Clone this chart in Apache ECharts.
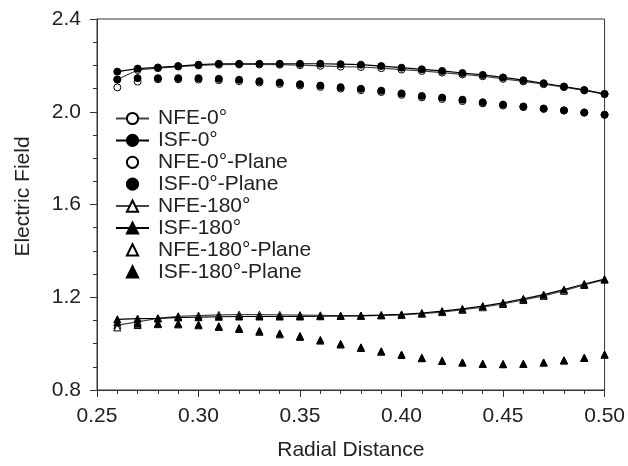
<!DOCTYPE html>
<html><head><meta charset="utf-8">
<script src="https://cdn.jsdelivr.net/npm/echarts@6/dist/echarts.min.js"></script>
<style>html,body{margin:0;padding:0;background:#fff}#c{width:628px;height:466px}</style>
</head><body><div id="c"></div>
<script>
const radialDistance = [0.26,0.27,0.28,0.29,0.30,0.31,0.32,0.33,0.34,0.35,0.36,0.37,0.38,0.39,0.40,0.41,0.42,0.43,0.44,0.45,0.46,0.47,0.48,0.49,0.50];
const nfe0 = [2.139,2.180,2.188,2.195,2.200,2.203,2.204,2.204,2.203,2.201,2.198,2.195,2.193,2.188,2.182,2.176,2.169,2.161,2.153,2.142,2.131,2.119,2.106,2.092,2.076];
const isf0 = [2.173,2.186,2.191,2.197,2.203,2.207,2.207,2.207,2.207,2.207,2.207,2.205,2.203,2.197,2.190,2.183,2.176,2.167,2.159,2.148,2.136,2.123,2.109,2.094,2.077];
const nfe0Plane = [2.105,2.130,2.140,2.140,2.139,2.136,2.132,2.126,2.120,2.113,2.107,2.100,2.093,2.085,2.073,2.062,2.055,2.046,2.036,2.027,2.020,2.012,2.005,1.996,1.987];
const isf0Plane = [2.139,2.145,2.145,2.145,2.145,2.142,2.138,2.132,2.126,2.119,2.113,2.106,2.099,2.091,2.079,2.068,2.061,2.052,2.041,2.031,2.023,2.014,2.006,1.997,1.987];
const nfe180 = [1.080,1.094,1.109,1.118,1.121,1.124,1.125,1.125,1.124,1.123,1.122,1.120,1.120,1.122,1.124,1.129,1.136,1.146,1.157,1.171,1.188,1.206,1.228,1.253,1.276];
const isf180 = [1.105,1.108,1.109,1.113,1.114,1.116,1.117,1.117,1.117,1.117,1.118,1.120,1.121,1.123,1.126,1.132,1.140,1.150,1.162,1.176,1.193,1.211,1.233,1.257,1.278];
const nfe180Plane = [1.070,1.080,1.084,1.083,1.079,1.072,1.063,1.051,1.040,1.029,1.013,0.996,0.981,0.965,0.951,0.937,0.925,0.918,0.912,0.911,0.912,0.918,0.927,0.938,0.952];
const isf180Plane = [1.091,1.086,1.087,1.086,1.082,1.075,1.067,1.055,1.044,1.033,1.016,0.999,0.984,0.967,0.953,0.939,0.926,0.919,0.913,0.912,0.913,0.919,0.928,0.939,0.953];
const xTicks = [0.25,0.30,0.35,0.40,0.45,0.50];
const yTicks = [0.8,1.2,1.6,2.0,2.4];

const font = '"Liberation Sans", Arial, sans-serif';
const txt = '#222';
function pairs(ys){ return radialDistance.map((x,i)=>[x, ys[i]]); }
function mk(name, ys, symbol, filled, withLine, lineColor){
  return {
    name, type:'line', data: pairs(ys), symbol, symbolSize: 7,
    showSymbol:true,
    itemStyle:{color: filled?'#000':'#fff', borderColor:'#000', borderWidth:1, opacity:1},
    lineStyle: withLine ? {color: lineColor, width:1.2} : {width:0, opacity:0},
    emphasis:{disabled:true}, animation:false, z: 2
  };
}
const chart = echarts.init(document.getElementById('c'), null, {renderer:'canvas'});
chart.setOption({
  animation:false,
  backgroundColor:'#fff',
  grid:{left:97, right:22, top:19, bottom:71, show:true, borderColor:'#333', borderWidth:1},
  xAxis:{
    type:'value', min:xTicks[0], max:xTicks[xTicks.length-1], interval:0.05,
    name:'Radial Distance', nameLocation:'middle', nameGap:50,
    nameTextStyle:{fontFamily:font, fontSize:21, color:txt},
    axisLine:{show:true, onZero:false, lineStyle:{color:'#333', width:1}},
    axisTick:{show:true, inside:false, length:7, lineStyle:{color:'#333'}},
    minorTick:{show:true, splitNumber:5, length:4, lineStyle:{color:'#333'}},
    splitLine:{show:false},
    axisLabel:{fontFamily:font, fontSize:21, color:txt, margin:16, formatter:v=>v.toFixed(2), showMinLabel:true, showMaxLabel:true}
  },
  yAxis:{
    type:'value', min:yTicks[0], max:yTicks[yTicks.length-1], interval:0.4,
    name:'Electric Field', nameLocation:'middle', nameGap:63,
    nameTextStyle:{fontFamily:font, fontSize:21, color:txt, padding:[0,0,0,16]},
    axisLine:{show:true, onZero:false, lineStyle:{color:'#333', width:1}},
    axisTick:{show:true, inside:false, length:7, lineStyle:{color:'#333'}},
    minorTick:{show:true, splitNumber:4, length:4, lineStyle:{color:'#333'}},
    splitLine:{show:false},
    axisLabel:{fontFamily:font, fontSize:21, color:txt, margin:16, formatter:v=>v.toFixed(1)}
  },
  legend:{
    orient:'vertical', left:110, top:103, itemWidth:33, itemHeight:14, itemGap:0.9,
    textStyle:{fontFamily:font, fontSize:21, color:txt, padding:[0,0,0,4]},
    data:['NFE-0°','ISF-0°','NFE-0°-Plane','ISF-0°-Plane','NFE-180°','ISF-180°','NFE-180°-Plane','ISF-180°-Plane']
  },
  series:[
    mk('NFE-0°', nfe0, 'circle', false, true, '#444'),
    mk('ISF-0°', isf0, 'circle', true, true, '#000'),
    mk('NFE-0°-Plane', nfe0Plane, 'circle', false, false),
    mk('ISF-0°-Plane', isf0Plane, 'circle', true, false),
    mk('NFE-180°', nfe180, 'triangle', false, true, '#444'),
    mk('ISF-180°', isf180, 'triangle', true, true, '#000'),
    mk('NFE-180°-Plane', nfe180Plane, 'triangle', false, false),
    mk('ISF-180°-Plane', isf180Plane, 'triangle', true, false)
  ]
});
</script></body></html>
